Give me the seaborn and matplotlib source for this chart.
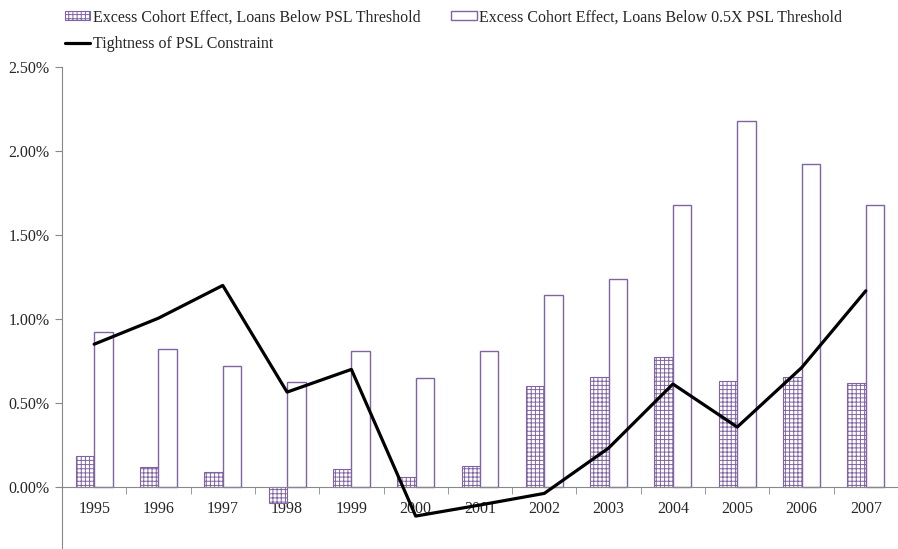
import numpy as np
import pandas as pd
import matplotlib
matplotlib.use('Agg')
import matplotlib.pyplot as plt
import seaborn as sns
from matplotlib.patches import Patch
from matplotlib.lines import Line2D
from matplotlib.ticker import FixedLocator, PercentFormatter

# data (in %)
anos = ['1995', '1996', '1997', '1998', '1999', '2000', '2001',
        '2002', '2003', '2004', '2005', '2006', '2007']
abaixo_psl = [0.186, 0.12, 0.088, -0.094, 0.11, 0.061, 0.125,
              0.60, 0.655, 0.775, 0.63, 0.655, 0.62]
abaixo_meio_psl = [0.92, 0.82, 0.72, 0.625, 0.81, 0.65, 0.81,
                   1.14, 1.24, 1.68, 2.18, 1.92, 1.68]
aperto_psl = [0.85, 1.005, 1.20, 0.565, 0.70, -0.173, -0.107,
              -0.038, 0.232, 0.613, 0.357, 0.71, 1.168]

nome1 = 'Excess Cohort Effect, Loans Below PSL Threshold'
nome2 = 'Excess Cohort Effect, Loans Below 0.5X PSL Threshold'
nome3 = 'Tightness of PSL Constraint'

roxo = '#8064A2'
cinza = '#888888'
fonte = 11.5

sns.set_style('white')
plt.rcParams['font.family'] = ['Liberation Serif', 'DejaVu Serif']
plt.rcParams['hatch.linewidth'] = 0.7

df = pd.DataFrame({'ano': anos * 2,
                   'valor': abaixo_psl + abaixo_meio_psl,
                   'serie': [nome1] * len(anos) + [nome2] * len(anos)})

fig = plt.figure(figsize=(8.98, 5.49), dpi=100)
ax = fig.add_axes([62 / 898, 1 / 549, 836 / 898, 481 / 549])

sns.barplot(data=df, x='ano', y='valor', hue='serie', order=anos,
            hue_order=[nome1, nome2], width=0.575, dodge=True,
            palette=['white', 'white'], legend=False, ax=ax, errorbar=None)

for barra in ax.containers[0]:
    barra.set_facecolor('white')
    barra.set_edgecolor(roxo)
    barra.set_hatch('++++')
    barra.set_linewidth(0.8)
for barra in ax.containers[1]:
    barra.set_facecolor('white')
    barra.set_edgecolor(roxo)
    barra.set_linewidth(1.0)

sns.lineplot(x=np.arange(len(anos)), y=aperto_psl, color='black',
             linewidth=2.3, sort=False, ax=ax, zorder=5)

ax.set_xlim(-0.5, len(anos) - 0.5)
ax.set_ylim(-0.363, 2.5)
ax.set_yticks([0, 0.5, 1.0, 1.5, 2.0, 2.5])
ax.yaxis.set_major_formatter(PercentFormatter(decimals=2))
ax.set_xlabel('')
ax.set_ylabel('')

for lado in ['top', 'right']:
    ax.spines[lado].set_visible(False)
ax.spines['left'].set_color(cinza)
ax.spines['bottom'].set_color(cinza)
ax.spines['bottom'].set_position(('data', 0))

ax.tick_params(axis='y', which='major', direction='out', length=5,
               color=cinza, labelsize=fonte, pad=4, left=True)
ax.tick_params(axis='x', which='major', length=0, labelsize=fonte, pad=10)
ax.xaxis.set_minor_locator(FixedLocator(np.arange(0.5, len(anos) - 0.5, 1)))
ax.tick_params(axis='x', which='minor', direction='out', length=5,
               color=cinza, bottom=True)

alcas = [Patch(facecolor='white', edgecolor=roxo, hatch='++++', linewidth=0.8),
         Line2D([0], [0], color='black', linewidth=2.3),
         Patch(facecolor='white', edgecolor=roxo, linewidth=1.0)]
fig.legend(alcas, [nome1, nome3, nome2], ncol=2, loc='upper left',
           bbox_to_anchor=(55 / 898, 1.0), frameon=False, fontsize=fonte,
           handlelength=1.6, handleheight=0.5, handletextpad=0.15,
           labelspacing=0.65, columnspacing=1.95, borderaxespad=0.2)

fig.savefig('out.png', dpi=100)
